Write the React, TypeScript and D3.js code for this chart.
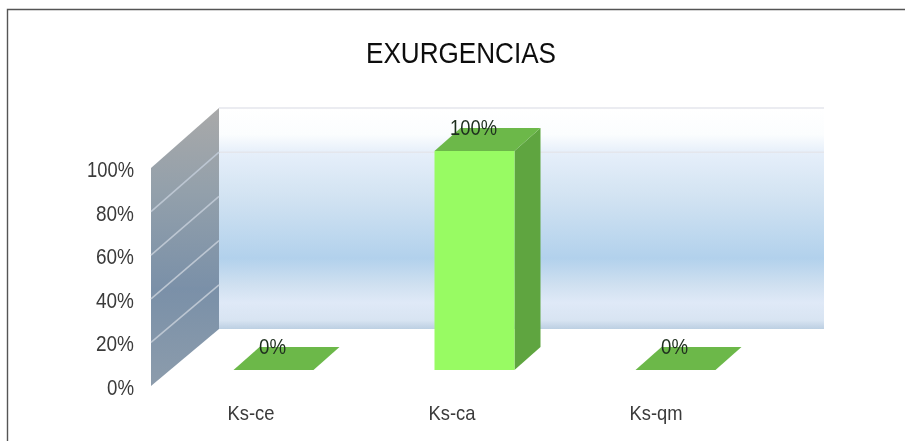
import React from "react";
import * as d3 from "d3";

const categories = ["Ks-ce", "Ks-ca", "Ks-qm"];
const seriesValues = [0, 100, 0];
const tickValues = [0, 20, 40, 60, 80, 100];
const valueLabels = ["0%", "100%", "0%"];

const W = 905, H = 441;
const font = "'Liberation Sans', Arial, sans-serif";

// Scales
const yFront = d3.scaleLinear().domain([0, 100]).range([386, 168]);
const yBack = d3.scaleLinear().domain([0, 100]).range([329, 108]);
const yBar = d3.scaleLinear().domain([0, 100]).range([370, 151]);
const xBand = d3.scaleBand<string>().domain(categories).range([172, 775]).paddingInner(0).paddingOuter(0);
const barWidth = 80;
const depthX = 26, depthY = 23;

const wallX0 = 151, wallX1 = 219, backRight = 824;

const poly = (pts: [number, number][]) => d3.line()(pts) + "Z";

function Txt({ x, y, w, size, children, anchor = "middle", fill = "#333" }: any) {
  return (
    <text x={x} y={y} textAnchor={anchor} fontFamily={font} fontSize={size} fill={fill}
      textLength={w} lengthAdjust="spacingAndGlyphs">{children}</text>
  );
}

export default function App() {
  return (
    <svg width={W} height={H} viewBox={`0 0 ${W} ${H}`}
      style={{ position: "absolute", left: 0, top: 0, display: "block", background: "#fff" }}>
      <defs>
        <linearGradient id="back" x1="0" y1="0" x2="0" y2="1">
          <stop offset="0" stopColor="#ffffff" />
          <stop offset="0.12" stopColor="#fbfdfe" />
          <stop offset="0.2" stopColor="#e6effa" />
          <stop offset="0.4" stopColor="#d2e3f2" />
          <stop offset="0.68" stopColor="#b2d1ec" />
          <stop offset="0.8" stopColor="#cfe0f0" />
          <stop offset="0.88" stopColor="#dfe9f7" />
          <stop offset="0.96" stopColor="#d8e4f2" />
          <stop offset="1" stopColor="#bccfe2" />
        </linearGradient>
        <linearGradient id="wall" x1="0" y1="0" x2="0" y2="1">
          <stop offset="0" stopColor="#a9a9a9" />
          <stop offset="0.3" stopColor="#93a0ab" />
          <stop offset="0.65" stopColor="#7a90a8" />
          <stop offset="1" stopColor="#8c9cac" />
        </linearGradient>
        <filter id="soft" x="-5%" y="-5%" width="110%" height="110%">
          <feGaussianBlur stdDeviation="0.7" />
        </filter>
      </defs>

      {/* chart frame: left and top edges only */}
      <path d={`M7.5 ${H}V9.5H${W}`} fill="none" stroke="#555" strokeWidth={1.4} />

      <g filter="url(#soft)">
        <rect x={wallX1} y={yBack(100)} width={backRight - wallX1} height={yBack(0) - yBack(100)} fill="url(#back)" />
        {[100, 80].map((t) => (
          <line key={t} x1={wallX1} x2={backRight} y1={yBack(t)} y2={yBack(t)} stroke="#e4e6ec" strokeWidth={1.6} />
        ))}

        <path d={poly([[wallX0, yFront(100)], [wallX1, yBack(100)], [wallX1, yBack(0)], [wallX0, yFront(0)]])} fill="url(#wall)" />
        {tickValues.filter((t) => t > 0 && t < 100).map((t) => (
          <line key={t} x1={wallX0} x2={wallX1} y1={yFront(t)} y2={yBack(t)} stroke="#bcc6d2" strokeWidth={1.6} />
        ))}

        {categories.map((c, i) => {
          const x0 = xBand(c)! + (xBand.bandwidth() - barWidth) / 2 + 1;
          const x1 = x0 + barWidth;
          const yT = yBar(seriesValues[i]);
          const yB = yBar(0);
          return (
            <g key={c}>
              {seriesValues[i] > 0 && (
                <>
                  <path d={poly([[x1, yT], [x1 + depthX, yT - depthY], [x1 + depthX, yB - depthY], [x1, yB]])} fill="#5ea53f" />
                  <rect x={x0} y={yT} width={barWidth} height={yB - yT} fill="#98fb64" />
                </>
              )}
              <path d={poly([[x0, yT], [x1, yT], [x1 + depthX, yT - depthY], [x0 + depthX, yT - depthY]])} fill="#6cb84a" />
            </g>
          );
        })}

        {categories.map((c, i) => {
          const x0 = xBand(c)! + (xBand.bandwidth() - barWidth) / 2 + 1;
          return (
            <Txt key={c} x={x0 + 39} y={yBar(seriesValues[i]) - 16} w={valueLabels[i].length > 2 ? 47 : 27} size={22} fill="#1f2f1f">
              {valueLabels[i]}
            </Txt>
          );
        })}

        {tickValues.map((t) => (
          <Txt key={t} x={134} y={yFront(t) + 9} w={t === 100 ? 47 : t === 0 ? 27 : 38} size={22} anchor="end" fill="#3a3a3a">
            {`${t}%`}
          </Txt>
        ))}

        {categories.map((c, i) => {
          const x0 = xBand(c)! + (xBand.bandwidth() - barWidth) / 2 + 1;
          return (
            <Txt key={c} x={x0 - 6} y={420} w={c === "Ks-qm" ? 53 : 47} size={21} anchor="start" fill="#3a3a3a">{c}</Txt>
          );
        })}

        <Txt x={461} y={63} w={190} size={29} fill="#111">EXURGENCIAS</Txt>
      </g>
    </svg>
  );
}
